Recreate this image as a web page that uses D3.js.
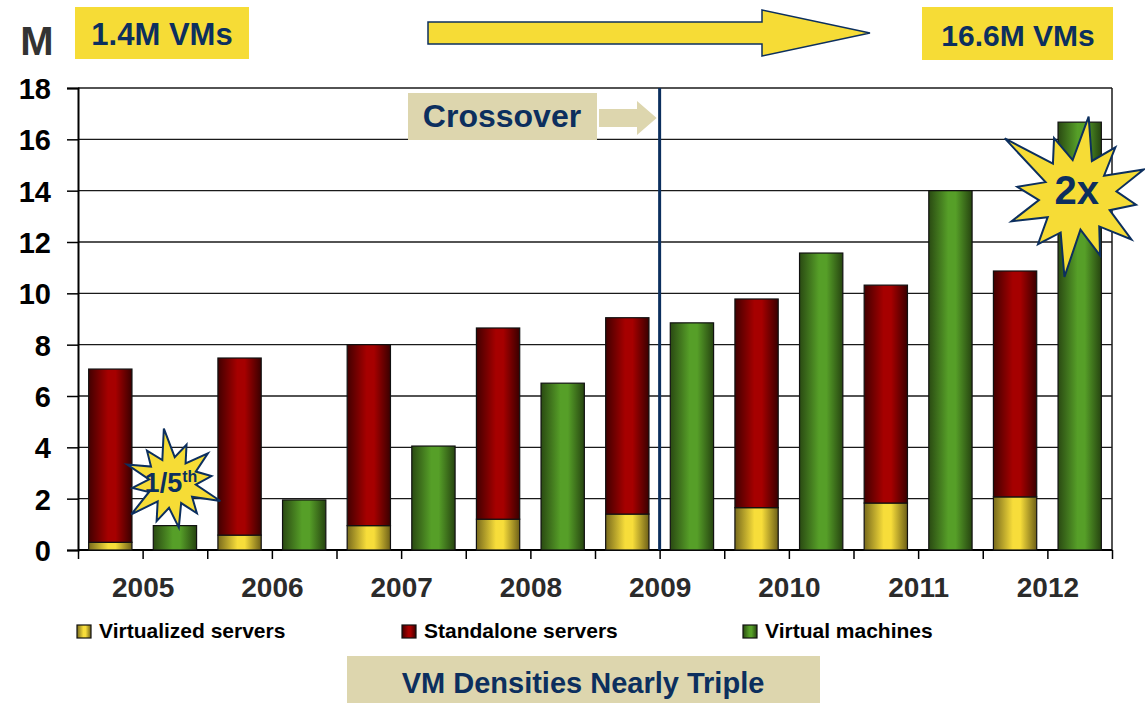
<!DOCTYPE html>
<html>
<head>
<meta charset="utf-8">
<script src="https://cdn.jsdelivr.net/npm/d3@7"></script>
<style>
  body { margin: 0; background: #fff; }
  svg { display: block; font-family: "Liberation Sans", Arial, sans-serif; font-weight: bold; }
</style>
</head>
<body>
<div id="chart"></div>
<script>
// ------ Data (millions) ------ //
const years = ["2005", "2006", "2007", "2008", "2009", "2010", "2011", "2012"];
const virtualizedServers = [0.30, 0.58, 0.95, 1.20, 1.40, 1.65, 1.83, 2.07];
const standaloneServers = [6.75, 6.90, 7.05, 7.45, 7.65, 8.13, 8.49, 8.80];
const virtualMachines = [0.95, 1.95, 4.05, 6.50, 8.85, 11.57, 14.00, 16.67];
const yTicks = [0, 2, 4, 6, 8, 10, 12, 14, 16, 18];
const legendLabels = ["Virtualized servers", "Standalone servers", "Virtual machines"];

const width = 1145;
const height = 703;
const plot = {left: 78, right: 1112, top: 88, bottom: 550};

const navy = "#0c2f5e";
const yellowBox = "#f6dc36";
const beige = "#ddd6ae";

const svg = d3.select("#chart")
  .append("svg")
  .attr("width", width)
  .attr("height", height)
  .attr("viewBox", [0, 0, width, height]);

// ------ Gradients for the bars ------ //
const defs = svg.append("defs");
const makeGradient = (id, edgeL, mid, edgeR) => {
  const g = defs.append("linearGradient")
    .attr("id", id)
    .attr("x1", "0%").attr("x2", "100%")
    .attr("y1", "0%").attr("y2", "0%");
  g.append("stop").attr("offset", "0%").attr("stop-color", edgeL);
  g.append("stop").attr("offset", "45%").attr("stop-color", mid);
  g.append("stop").attr("offset", "62%").attr("stop-color", mid);
  g.append("stop").attr("offset", "100%").attr("stop-color", edgeR);
};
makeGradient("grad-yellow", "#786a1c", "#f7dd3a", "#6e6018");
makeGradient("grad-red", "#420000", "#a60000", "#3a0000");
makeGradient("grad-green", "#2a4a12", "#569f28", "#264410");
const fills = ["url(#grad-yellow)", "url(#grad-red)", "url(#grad-green)"];

// ------ Scales ------ //
const keys = [];
years.forEach(y => { keys.push(y + "-s"); keys.push(y + "-v"); });

const xBand = d3.scaleBand()
  .domain(keys)
  .range([plot.left, plot.right])
  .paddingInner(0.33)
  .paddingOuter(0.165);

const xIdx = d3.scaleLinear()
  .domain([0, keys.length])
  .range([plot.left, plot.right]);

const yScale = d3.scaleLinear()
  .domain([0, 18])
  .range([plot.bottom, plot.top]);

// ------ Grid and axes ------ //
svg.append("g")
  .selectAll("line")
  .data(yTicks.filter(d => d > 0))
  .join("line")
    .attr("x1", plot.left)
    .attr("x2", plot.right)
    .attr("y1", d => yScale(d))
    .attr("y2", d => yScale(d))
    .attr("stroke", "#1a1a1a")
    .attr("stroke-width", 1.3);

svg.append("line")
  .attr("x1", plot.right).attr("x2", plot.right)
  .attr("y1", plot.top).attr("y2", plot.bottom)
  .attr("stroke", "#1a1a1a")
  .attr("stroke-width", 1.5);

const leftAxis = d3.axisLeft(yScale)
  .tickValues(yTicks)
  .tickSize(11)
  .tickPadding(16)
  .tickFormat(d3.format("d"));
const gy = svg.append("g")
  .attr("transform", `translate(${plot.left}, 0)`)
  .call(leftAxis);
gy.select(".domain").attr("stroke", "#000").attr("stroke-width", 2);
gy.selectAll(".tick line").attr("stroke", "#000").attr("stroke-width", 1.5);
gy.selectAll(".tick text")
  .attr("fill", "#000")
  .style("font-size", "29px")
  .style("font-weight", "bold")
  .style("font-family", "'Liberation Sans', Arial, sans-serif")
  .attr("dy", "0.36em");

const bottomAxis = d3.axisBottom(xIdx)
  .tickValues(d3.range(keys.length + 1))
  .tickSize(9)
  .tickPadding(13)
  .tickFormat(d => d % 2 === 1 ? years[(d - 1) / 2] : "");
const gx = svg.append("g")
  .attr("transform", `translate(0, ${plot.bottom})`)
  .call(bottomAxis);
gx.select(".domain").attr("stroke", "#000").attr("stroke-width", 2).attr("d", `M${plot.left},0H${plot.right}`);
gx.selectAll(".tick line").attr("stroke", "#000").attr("stroke-width", 1.5);
gx.selectAll(".tick text")
  .attr("fill", "#2b2b2b")
  .style("font-size", "28px")
  .style("font-weight", "bold")
  .style("font-family", "'Liberation Sans', Arial, sans-serif")
  .attr("dy", "0.9em");

// ------ Bars ------ //
const serverData = years.map((y, i) => ({
  key: y + "-s",
  virtualized: virtualizedServers[i],
  standalone: standaloneServers[i]
}));
const stacked = d3.stack().keys(["virtualized", "standalone"])(serverData);

svg.append("g")
  .selectAll("g")
  .data(stacked)
  .join("g")
    .attr("fill", (d, i) => fills[i])
  .selectAll("rect")
  .data(d => d)
  .join("rect")
    .attr("x", d => xBand(d.data.key))
    .attr("width", xBand.bandwidth())
    .attr("y", d => yScale(d[1]))
    .attr("height", d => yScale(d[0]) - yScale(d[1]))
    .attr("stroke", "#111")
    .attr("stroke-width", 1.2);

svg.append("g")
  .selectAll("rect")
  .data(years.map((y, i) => ({key: y + "-v", value: virtualMachines[i]})))
  .join("rect")
    .attr("x", d => xBand(d.key))
    .attr("width", xBand.bandwidth())
    .attr("y", d => yScale(d.value))
    .attr("height", d => yScale(0) - yScale(d.value))
    .attr("fill", fills[2])
    .attr("stroke", "#111")
    .attr("stroke-width", 1.2);

// ------ Crossover line and label ------ //
const crossX = xIdx(years.indexOf("2009") * 2 + 1);
svg.append("line")
  .attr("x1", crossX).attr("x2", crossX)
  .attr("y1", plot.top).attr("y2", plot.bottom)
  .attr("stroke", navy)
  .attr("stroke-width", 3);

svg.append("rect")
  .attr("x", 408).attr("y", 93)
  .attr("width", 189).attr("height", 47)
  .attr("fill", beige);
svg.append("text")
  .text("Crossover")
  .attr("x", 502).attr("y", 127)
  .attr("text-anchor", "middle")
  .attr("fill", navy)
  .style("font-size", "32px");
svg.append("polygon")
  .attr("points", [[599, 109], [637, 109], [637, 101], [crossX - 3, 118], [637, 135], [637, 127], [599, 127]].join(" "))
  .attr("fill", beige);

// ------ Top banner ------ //
svg.append("text")
  .text("M")
  .attr("x", 37).attr("y", 55)
  .attr("text-anchor", "middle")
  .attr("fill", "#333")
  .style("font-size", "40px");

svg.append("rect")
  .attr("x", 75).attr("y", 7)
  .attr("width", 174).attr("height", 52)
  .attr("fill", yellowBox);
svg.append("text")
  .text("1.4M VMs")
  .attr("x", 162).attr("y", 45)
  .attr("text-anchor", "middle")
  .attr("fill", navy)
  .style("font-size", "31px");

svg.append("rect")
  .attr("x", 922).attr("y", 7)
  .attr("width", 191).attr("height", 53)
  .attr("fill", yellowBox);
svg.append("text")
  .text("16.6M VMs")
  .attr("x", 1018).attr("y", 46)
  .attr("text-anchor", "middle")
  .attr("fill", navy)
  .style("font-size", "30px");

svg.append("polygon")
  .attr("points", [[428, 22], [762, 22], [762, 10], [870, 33], [762, 56], [762, 44], [428, 44]].join(" "))
  .attr("fill", yellowBox)
  .attr("stroke", navy)
  .attr("stroke-width", 1.5);

// ------ Starbursts ------ //
const starLine = d3.lineRadial()
  .angle(d => d[0])
  .radius(d => d[1])
  .curve(d3.curveLinearClosed);
const starPoints = (outer, inner, rot) => {
  const pts = [];
  outer.forEach((r, i) => {
    const a = rot + i * 2 * Math.PI / outer.length;
    pts.push([a, r]);
    pts.push([a + Math.PI / outer.length, inner[i % inner.length]]);
  });
  return pts;
};

const fifthX = xBand("2005-v") + xBand.bandwidth() / 2 - 3;
const fifthY = yScale(2.65);
svg.append("path")
  .attr("transform", `translate(${fifthX}, ${fifthY})`)
  .attr("d", starLine(starPoints([54, 40, 46, 40, 52, 40, 46, 42, 52, 40, 48, 40], [25, 23, 26, 24], -0.15)))
  .attr("fill", yellowBox)
  .attr("stroke", navy)
  .attr("stroke-width", 2);
const fifth = svg.append("text")
  .attr("x", fifthX - 1).attr("y", fifthY + 10)
  .attr("text-anchor", "middle")
  .attr("fill", navy)
  .style("font-size", "27px");
fifth.append("tspan").text("1/5");
fifth.append("tspan").text("th").attr("dy", -10).style("font-size", "16px");

const twoX = xBand("2012-v") + xBand.bandwidth() / 2 - 3;
const twoY = yScale(13.8);
svg.append("path")
  .attr("transform", `translate(${twoX}, ${twoY})`)
  .attr("d", starLine(starPoints([80, 62, 72, 60, 70, 64, 82, 62, 70, 60, 92, 62], [38, 34, 40, 36], 0.15)))
  .attr("fill", yellowBox)
  .attr("stroke", navy)
  .attr("stroke-width", 2);
svg.append("text")
  .text("2x")
  .attr("x", twoX).attr("y", twoY + 8)
  .attr("text-anchor", "middle")
  .attr("fill", navy)
  .style("font-size", "40px");

// ------ Legend ------ //
const legendX = [77, 402, 743];
const legend = svg.append("g")
  .selectAll("g")
  .data(legendLabels)
  .join("g")
    .attr("transform", (d, i) => `translate(${legendX[i]}, 625)`);
legend.append("rect")
  .attr("width", 14).attr("height", 13)
  .attr("fill", (d, i) => fills[i])
  .attr("stroke", "#111")
  .attr("stroke-width", 1.2);
legend.append("text")
  .text(d => d)
  .attr("x", 22).attr("y", 13)
  .attr("fill", "#000")
  .style("font-size", "21px");

// ------ Bottom caption ------ //
svg.append("rect")
  .attr("x", 347).attr("y", 656)
  .attr("width", 473).attr("height", 47)
  .attr("fill", beige);
svg.append("text")
  .text("VM Densities Nearly Triple")
  .attr("x", 583).attr("y", 693)
  .attr("text-anchor", "middle")
  .attr("fill", navy)
  .style("font-size", "29px");
</script>
</body>
</html>
